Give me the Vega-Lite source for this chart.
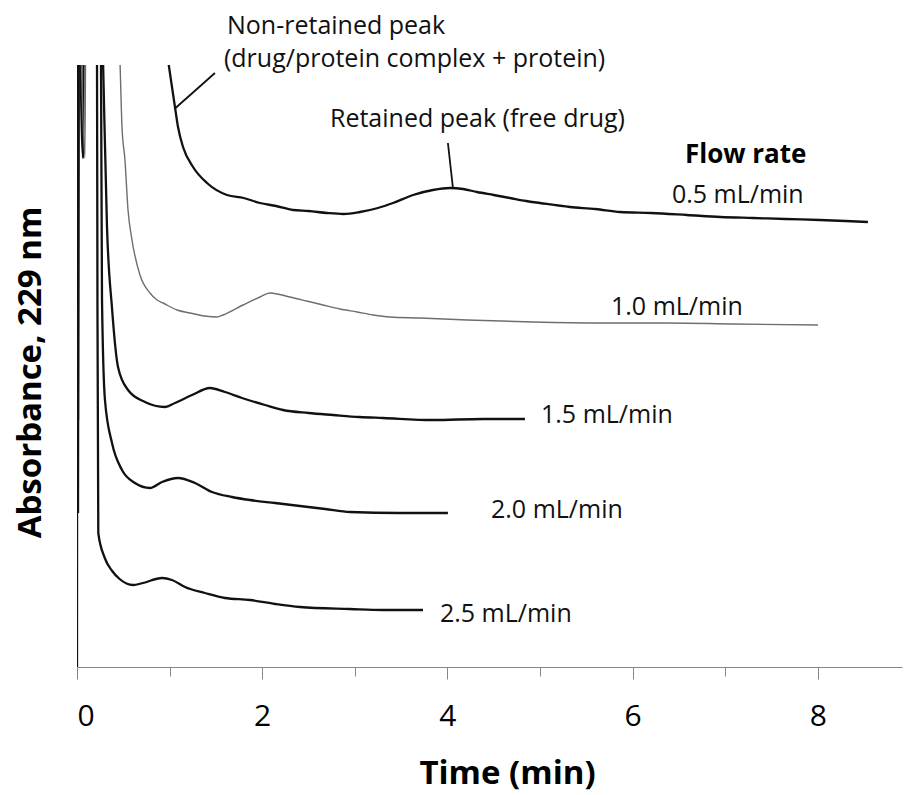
{
  "$schema": "https://vega.github.io/schema/vega-lite/v6.json",
  "autosize": {"type": "none"},
  "width": 825,
  "height": 602,
  "padding": {"left": 77, "top": 65, "right": 2, "bottom": 128},
  "background": "white",
  "config": {"view": {"stroke": null}, "font": "Open Sans"},
  "datasets": {
    "traces": [
      {"flow": "0.5", "t": 0, "a": 45.7}, {"flow": "0.5", "t": 0.011, "a": 70}, {"flow": "0.5", "t": 0.065, "a": 50.9}, {"flow": "0.5", "t": 0.076, "a": 70},
      {"flow": "0.5", "t": 0.886, "a": 66.7}, {"flow": "0.5", "t": 0.983, "a": 60.7}, {"flow": "0.5", "t": 1.058, "a": 56.0}, {"flow": "0.5", "t": 1.091, "a": 54.0},
      {"flow": "0.5", "t": 1.145, "a": 52.0}, {"flow": "0.5", "t": 1.253, "a": 50.0}, {"flow": "0.5", "t": 1.404, "a": 48.4}, {"flow": "0.5", "t": 1.62, "a": 47.2},
      {"flow": "0.5", "t": 1.8, "a": 46.9}, {"flow": "0.5", "t": 1.976, "a": 46.4}, {"flow": "0.5", "t": 2.15, "a": 46.1}, {"flow": "0.5", "t": 2.333, "a": 45.7},
      {"flow": "0.5", "t": 2.5, "a": 45.6}, {"flow": "0.5", "t": 2.7, "a": 45.4}, {"flow": "0.5", "t": 2.88, "a": 45.3}, {"flow": "0.5", "t": 3.056, "a": 45.5},
      {"flow": "0.5", "t": 3.25, "a": 45.9}, {"flow": "0.5", "t": 3.413, "a": 46.4}, {"flow": "0.5", "t": 3.629, "a": 47.2}, {"flow": "0.5", "t": 3.844, "a": 47.7},
      {"flow": "0.5", "t": 4.028, "a": 47.9}, {"flow": "0.5", "t": 4.17, "a": 47.8}, {"flow": "0.5", "t": 4.32, "a": 47.5}, {"flow": "0.5", "t": 4.5, "a": 47.2},
      {"flow": "0.5", "t": 4.676, "a": 46.9}, {"flow": "0.5", "t": 4.85, "a": 46.6}, {"flow": "0.5", "t": 5.0, "a": 46.4}, {"flow": "0.5", "t": 5.324, "a": 46.0},
      {"flow": "0.5", "t": 5.6, "a": 45.8}, {"flow": "0.5", "t": 5.864, "a": 45.5}, {"flow": "0.5", "t": 6.2, "a": 45.4}, {"flow": "0.5", "t": 6.587, "a": 45.2},
      {"flow": "0.5", "t": 6.95, "a": 45.0}, {"flow": "0.5", "t": 7.3, "a": 44.9}, {"flow": "0.5", "t": 7.65, "a": 44.8}, {"flow": "0.5", "t": 8.024, "a": 44.7},
      {"flow": "0.5", "t": 8.3, "a": 44.6}, {"flow": "0.5", "t": 8.542, "a": 44.5},

      {"flow": "1.0", "t": 0, "a": 34.9}, {"flow": "1.0", "t": 0.011, "a": 70}, {"flow": "1.0", "t": 0.086, "a": 50.9}, {"flow": "1.0", "t": 0.097, "a": 70},
      {"flow": "1.0", "t": 0.445, "a": 66.7}, {"flow": "1.0", "t": 0.464, "a": 60.7}, {"flow": "1.0", "t": 0.486, "a": 54.0}, {"flow": "1.0", "t": 0.518, "a": 50.7},
      {"flow": "1.0", "t": 0.551, "a": 45.7}, {"flow": "1.0", "t": 0.594, "a": 42.7}, {"flow": "1.0", "t": 0.68, "a": 39.2}, {"flow": "1.0", "t": 0.788, "a": 37.4},
      {"flow": "1.0", "t": 0.864, "a": 36.7}, {"flow": "1.0", "t": 0.929, "a": 36.4}, {"flow": "1.0", "t": 1.08, "a": 35.7}, {"flow": "1.0", "t": 1.22, "a": 35.4},
      {"flow": "1.0", "t": 1.38, "a": 35.1}, {"flow": "1.0", "t": 1.512, "a": 35.0}, {"flow": "1.0", "t": 1.577, "a": 35.2}, {"flow": "1.0", "t": 1.793, "a": 36.2},
      {"flow": "1.0", "t": 1.976, "a": 37.0}, {"flow": "1.0", "t": 2.084, "a": 37.4}, {"flow": "1.0", "t": 2.3, "a": 37.0}, {"flow": "1.0", "t": 2.48, "a": 36.6},
      {"flow": "1.0", "t": 2.657, "a": 36.2}, {"flow": "1.0", "t": 2.84, "a": 35.8}, {"flow": "1.0", "t": 3.024, "a": 35.5}, {"flow": "1.0", "t": 3.2, "a": 35.2},
      {"flow": "1.0", "t": 3.38, "a": 35.0}, {"flow": "1.0", "t": 3.704, "a": 34.9}, {"flow": "1.0", "t": 4.212, "a": 34.7}, {"flow": "1.0", "t": 4.924, "a": 34.5},
      {"flow": "1.0", "t": 5.648, "a": 34.4}, {"flow": "1.0", "t": 6.371, "a": 34.4}, {"flow": "1.0", "t": 7.084, "a": 34.3}, {"flow": "1.0", "t": 8.002, "a": 34.2},

      {"flow": "1.5", "t": 0.011, "a": 24.7}, {"flow": "1.5", "t": 0.022, "a": 70}, {"flow": "1.5", "t": 0.265, "a": 66.7}, {"flow": "1.5", "t": 0.281, "a": 60.7},
      {"flow": "1.5", "t": 0.324, "a": 44.0}, {"flow": "1.5", "t": 0.378, "a": 35.9}, {"flow": "1.5", "t": 0.443, "a": 30.0}, {"flow": "1.5", "t": 0.551, "a": 27.7},
      {"flow": "1.5", "t": 0.734, "a": 26.5}, {"flow": "1.5", "t": 0.95, "a": 26.0}, {"flow": "1.5", "t": 1.058, "a": 26.4}, {"flow": "1.5", "t": 1.242, "a": 27.2},
      {"flow": "1.5", "t": 1.436, "a": 27.9}, {"flow": "1.5", "t": 1.598, "a": 27.5}, {"flow": "1.5", "t": 1.782, "a": 26.9}, {"flow": "1.5", "t": 2.03, "a": 26.2},
      {"flow": "1.5", "t": 2.225, "a": 25.7}, {"flow": "1.5", "t": 2.5, "a": 25.4}, {"flow": "1.5", "t": 2.765, "a": 25.2}, {"flow": "1.5", "t": 3.05, "a": 25.0},
      {"flow": "1.5", "t": 3.305, "a": 24.9}, {"flow": "1.5", "t": 3.844, "a": 24.7}, {"flow": "1.5", "t": 4.384, "a": 24.8}, {"flow": "1.5", "t": 4.838, "a": 24.8},

      {"flow": "2.0", "t": 0.011, "a": 15.4}, {"flow": "2.0", "t": 0.022, "a": 70}, {"flow": "2.0", "t": 0.248, "a": 66.7}, {"flow": "2.0", "t": 0.259, "a": 60.7},
      {"flow": "2.0", "t": 0.27, "a": 36.7}, {"flow": "2.0", "t": 0.302, "a": 26.7}, {"flow": "2.0", "t": 0.378, "a": 22.4}, {"flow": "2.0", "t": 0.486, "a": 19.7},
      {"flow": "2.0", "t": 0.626, "a": 18.4}, {"flow": "2.0", "t": 0.788, "a": 17.9}, {"flow": "2.0", "t": 0.918, "a": 18.5}, {"flow": "2.0", "t": 1.091, "a": 18.9},
      {"flow": "2.0", "t": 1.274, "a": 18.4}, {"flow": "2.0", "t": 1.458, "a": 17.5}, {"flow": "2.0", "t": 1.674, "a": 17.0}, {"flow": "2.0", "t": 1.868, "a": 16.7},
      {"flow": "2.0", "t": 2.14, "a": 16.4}, {"flow": "2.0", "t": 2.408, "a": 16.1}, {"flow": "2.0", "t": 2.68, "a": 15.8}, {"flow": "2.0", "t": 2.948, "a": 15.5},
      {"flow": "2.0", "t": 3.488, "a": 15.4}, {"flow": "2.0", "t": 4.006, "a": 15.4},

      {"flow": "2.5", "t": 0, "a": 0}, {"flow": "2.5", "t": 0.005, "a": 70}, {"flow": "2.5", "t": 0.205, "a": 66.7}, {"flow": "2.5", "t": 0.216, "a": 60.7},
      {"flow": "2.5", "t": 0.221, "a": 35.7}, {"flow": "2.5", "t": 0.23, "a": 13.4}, {"flow": "2.5", "t": 0.3, "a": 10.9}, {"flow": "2.5", "t": 0.38, "a": 9.6},
      {"flow": "2.5", "t": 0.46, "a": 8.8}, {"flow": "2.5", "t": 0.605, "a": 8.2}, {"flow": "2.5", "t": 0.713, "a": 8.4}, {"flow": "2.5", "t": 0.918, "a": 8.9},
      {"flow": "2.5", "t": 1.026, "a": 8.7}, {"flow": "2.5", "t": 1.166, "a": 8.0}, {"flow": "2.5", "t": 1.382, "a": 7.4}, {"flow": "2.5", "t": 1.598, "a": 6.9},
      {"flow": "2.5", "t": 1.868, "a": 6.7}, {"flow": "2.5", "t": 2.14, "a": 6.3}, {"flow": "2.5", "t": 2.408, "a": 6.0}, {"flow": "2.5", "t": 2.948, "a": 5.8},
      {"flow": "2.5", "t": 3.305, "a": 5.7}, {"flow": "2.5", "t": 3.737, "a": 5.7}
    ],
    "leaders": [
      {"t": 1.49, "a": 59.4, "t2": 1.064, "a2": 55.9},
      {"t": 4.006, "a": 52.4, "t2": 4.06, "a2": 47.9}
    ],
    "notes": [
      {"t": 1.62, "a": 63.3, "label": "Non-retained peak"},
      {"t": 1.587, "a": 60.0, "label": "(drug/protein complex +  protein)"},
      {"t": 2.732, "a": 54.0, "label": "Retained peak (free drug)"},
      {"t": 6.425, "a": 46.4, "label": "0.5 mL/min"},
      {"t": 5.767, "a": 35.2, "label": "1.0 mL/min"},
      {"t": 5.011, "a": 24.4, "label": "1.5 mL/min"},
      {"t": 4.471, "a": 14.9, "label": "2.0 mL/min"},
      {"t": 3.92, "a": 4.5, "label": "2.5 mL/min"}
    ],
    "heading": [
      {"t": 6.566, "a": 50.4, "label": "Flow rate"}
    ]
  },
  "encoding": {
    "x": {
      "field": "t", "type": "quantitative",
      "scale": {"domain": [0, 8.91], "nice": false, "zero": false},
      "axis": {
        "title": "Time (min)",
        "values": [0, 1, 2, 3, 4, 5, 6, 7, 8],
        "labelExpr": "datum.value % 2 === 0 ? datum.label : ''",
        "grid": false,
        "domainColor": "#868686",
        "domainWidth": 1,
        "tickColor": "#868686",
        "tickWidth": 1,
        "tickSize": {"condition": {"test": "datum.value % 2 === 0", "value": 12}, "value": 9},
        "labelFont": "Open Sans",
        "labelFontSize": 30,
        "labelColor": "#000000",
        "labelPadding": 22,
        "titleFont": "Open Sans",
        "titleFontSize": 33,
        "titleFontWeight": "bold",
        "titleColor": "#000000",
        "titlePadding": 26,
        "titleX": 430
      }
    },
    "y": {
      "field": "a", "type": "quantitative",
      "scale": {"domain": [0, 60.2], "nice": false, "zero": false},
      "axis": {
        "title": "Absorbance, 229 nm",
        "domain": false, "ticks": false, "labels": false, "grid": false,
        "titleFont": "Open Sans",
        "titleFontSize": 33,
        "titleFontWeight": "bold",
        "titleColor": "#000000",
        "titlePadding": 30,
        "titleY": 307
      }
    }
  },
  "layer": [
    {
      "data": {"name": "traces"},
      "mark": {"type": "line", "clip": true, "strokeJoin": "round", "interpolate": "monotone"},
      "encoding": {
        "detail": {"field": "flow", "type": "nominal"},
        "color": {"condition": {"test": "datum.flow === '1.0'", "value": "#6e6e6e"}, "value": "#111111"},
        "strokeWidth": {"condition": {"test": "datum.flow === '1.0'", "value": 1.4}, "value": 2.3}
      }
    },
    {
      "data": {"name": "leaders"},
      "mark": {"type": "rule", "color": "#111111", "strokeWidth": 1.8},
      "encoding": {
        "x2": {"field": "t2"},
        "y2": {"field": "a2"}
      }
    },
    {
      "data": {"name": "notes"},
      "mark": {"type": "text", "align": "left", "baseline": "alphabetic", "font": "Open Sans", "fontSize": 25, "color": "#111111"},
      "encoding": {"text": {"field": "label"}}
    },
    {
      "data": {"name": "heading"},
      "mark": {"type": "text", "align": "left", "baseline": "alphabetic", "font": "Open Sans", "fontSize": 26, "fontWeight": "bold", "color": "#000000"},
      "encoding": {"text": {"field": "label"}}
    }
  ]
}
